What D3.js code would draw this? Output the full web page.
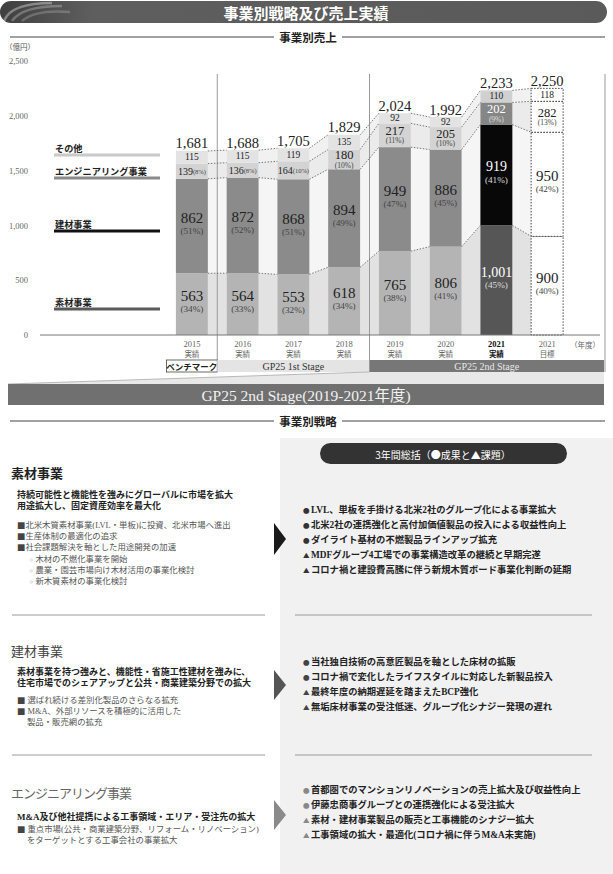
<!DOCTYPE html>
<html lang="ja">
<head>
<meta charset="UTF-8">
<title>事業別戦略及び売上実績</title>
<script src="https://d3js.org/d3.v7.min.js"></script>
<style>
  body { margin: 0; background: #fff; }
  svg { display: block; }
  .axis .domain { display: none; }
  .axis text { font-family: 'Liberation Serif', 'Noto Sans CJK JP', serif; }
</style>
</head>
<body>
<script>
// ---- data ----
var years   = ["2015", "2016", "2017", "2018", "2019", "2020", "2021", "2021"];
var kinds   = ["実績", "実績", "実績", "実績", "実績", "実績", "実績", "目標"];
var sozai   = [563, 564, 553, 618, 765, 806, 1001, 900];
var kenzai  = [862, 872, 868, 894, 949, 886, 919, 950];
var engi    = [139, 136, 164, 180, 217, 205, 202, 282];
var other   = [115, 115, 119, 135, 92, 92, 110, 118];
var totals  = [1681, 1688, 1705, 1829, 2024, 1992, 2233, 2250];
var sozaiPct  = [34, 33, 32, 34, 38, 41, 45, 40];
var kenzaiPct = [51, 52, 51, 49, 47, 45, 41, 42];
var engiPct   = [8, 8, 10, 10, 11, 10, 9, 13];
var yTicks  = [0, 500, 1000, 1500, 2000, 2500];
var seriesNames = ["素材事業", "建材事業", "エンジニアリング事業", "その他"];
var stageNames  = ["ベンチマーク", "GP25 1st Stage", "GP25 2nd Stage"];
var stageFirst  = [0, 1, 4];   // 各ステージの最初の列
var stageLast   = [0, 3, 7];

var width = 613, height = 874;
var serif = "'Liberation Serif','Noto Sans CJK JP',serif";
var jp = "'Noto Sans CJK JP',sans-serif";

var svg = d3.select("body").append("svg")
    .attr("width", width)
    .attr("height", height);

// 見出しバー
var defs = svg.append("defs");
var grad = defs.append("linearGradient").attr("id", "titleGrad");
grad.append("stop").attr("offset", "0%").attr("stop-color", "#3f3f3f");
grad.append("stop").attr("offset", "15%").attr("stop-color", "#5e5e5e");
grad.append("stop").attr("offset", "100%").attr("stop-color", "#5a5a5a");
svg.append("rect").attr("x", 0).attr("y", 1).attr("width", 607).attr("height", 22)
    .attr("rx", 11).attr("fill", "url(#titleGrad)");
[["M4,21 C8,10 22,3 52,3", 0.35], ["M12,21 C18,12 32,6 62,6", 0.25], ["M22,21 C30,14 44,10 70,12", 0.2]]
  .forEach(function(p) {
    svg.append("path").attr("d", p[0]).attr("fill", "none")
      .attr("stroke", "#fff").attr("stroke-width", 2.5).attr("opacity", p[1]);
  });
svg.append("text").attr("x", 306).attr("y", 12).attr("text-anchor", "middle")
    .attr("dominant-baseline", "central").attr("fill", "#fff")
    .attr("font-family", jp).attr("font-weight", "bold").attr("font-size", 15)
    .text("事業別戦略及び売上実績");

function sectionHeader(label, y) {
  svg.append("line").attr("x1", 10).attr("x2", 274).attr("y1", y).attr("y2", y)
    .attr("stroke", "#444").attr("stroke-width", 1.2);
  svg.append("line").attr("x1", 342).attr("x2", 605).attr("y1", y).attr("y2", y)
    .attr("stroke", "#444").attr("stroke-width", 1.2);
  svg.append("text").attr("x", 308).attr("y", y).attr("text-anchor", "middle")
    .attr("dominant-baseline", "central").attr("fill", "#222")
    .attr("font-family", jp).attr("font-weight", "bold").attr("font-size", 11.5)
    .text(label);
}
sectionHeader("事業別売上", 37);

// ---- scales ----
var keys = years.map(function(y, i) { return i; });
var xScale = d3.scaleBand().domain(keys).range([166.5, 572.5])
    .paddingInner(0.37).paddingOuter(0.185);
var bw = xScale.bandwidth();
var step = xScale.step();
var yScale = d3.scaleLinear().domain([0, 2500]).range([335, 61]);

var rows = keys.map(function(i) {
  return { i: i, sozai: sozai[i], kenzai: kenzai[i], engi: engi[i], other: other[i] };
});
var stacked = d3.stack().keys(["sozai", "kenzai", "engi", "other"])(rows);

var barFill  = { sozai: "#b4b4b4", kenzai: "#8b8b8b", engi: "#d3d3d3", other: "#e3e3e3" };
var hiFill   = { sozai: "#565656", kenzai: "#080808", engi: "#868686", other: "#d0d0d0" };
var linkFill = { sozai: "#e2e2e2", kenzai: "#f5f5f5", engi: "#ebebeb", other: "#f1f1f1" };
var legendCol = { sozai: "#5a5a5a", kenzai: "#111", engi: "#8a8a8a", other: "#c9c9c9" };
var pctOf = { sozai: sozaiPct, kenzai: kenzaiPct, engi: engiPct };

// 軸
svg.append("text").attr("x", 5).attr("y", 50).attr("font-family", jp)
    .attr("font-size", 7.5).attr("fill", "#555").text("（億円）");
var yAxis = d3.axisLeft(yScale).tickValues(yTicks).tickSize(0).tickPadding(0)
    .tickFormat(d3.format(","));
svg.append("g").attr("class", "axis").attr("transform", "translate(28,0)").call(yAxis)
  .selectAll("text").attr("font-size", 8.5).attr("fill", "#666");

// 期間区切り
function stageLeft(s) { return xScale(stageFirst[s]) - (step - bw) / 2; }
function stageRight(s) { return s === 2 ? 604 : xScale(stageLast[s]) + bw + (step - bw) / 2; }

// 接続帯
var linkG = svg.append("g");
stacked.forEach(function(layer) {
  for (var i = 0; i < layer.length - 1; i++) {
    var a = layer[i], b = layer[i + 1];
    var xa = xScale(i) + bw, xb = xScale(i + 1);
    linkG.append("path")
      .attr("d", "M" + xa + "," + yScale(a[0]) + "L" + xa + "," + yScale(a[1]) +
                 "L" + xb + "," + yScale(b[1]) + "L" + xb + "," + yScale(b[0]) + "Z")
      .attr("fill", linkFill[layer.key]);
  }
});

// 区切り線
[stageRight(0), stageRight(1), 605].forEach(function(x) {
  svg.append("line").attr("x1", x).attr("x2", x).attr("y1", 74).attr("y2", 372)
    .attr("stroke", "#999").attr("stroke-width", 1);
});

// 棒
var barG = svg.append("g");
stacked.forEach(function(layer) {
  barG.selectAll(null).data(layer).enter().append("rect")
    .attr("x", function(d, i) { return xScale(i); })
    .attr("y", function(d) { return yScale(d[1]); })
    .attr("width", bw)
    .attr("height", function(d) { return yScale(d[0]) - yScale(d[1]); })
    .attr("fill", function(d, i) { return i === 7 ? "#fff" : (i === 6 ? hiFill[layer.key] : barFill[layer.key]); })
    .attr("stroke", function(d, i) { return i === 7 ? "#444" : "none"; })
    .attr("stroke-width", 1)
    .attr("stroke-dasharray", "1.5,1.5");
});

// 点線
stacked.forEach(function(layer) {
  for (var i = 0; i < layer.length - 1; i++) {
    svg.append("line")
      .attr("x1", xScale(i) + bw).attr("y1", yScale(layer[i][1]))
      .attr("x2", xScale(i + 1)).attr("y2", yScale(layer[i + 1][1]))
      .attr("stroke", "#555").attr("stroke-width", 0.8).attr("stroke-dasharray", "1.5,1.5");
  }
});

// 基線
svg.append("line").attr("x1", 40).attr("x2", 600).attr("y1", 335).attr("y2", 335)
  .attr("stroke", "#777").attr("stroke-width", 1);

// ラベル
var labelG = svg.append("g").attr("text-anchor", "middle").attr("font-family", serif);
stacked.forEach(function(layer) {
  layer.forEach(function(d, i) {
    var cx = xScale(i) + bw / 2;
    var mid = (yScale(d[0]) + yScale(d[1])) / 2;
    var dark = (i === 6 && layer.key !== "other");
    var numCol = dark ? "#fff" : "#222";
    var pctCol = dark ? "#ddd" : "#444";
    var v = d[1] - d[0];
    if (layer.key === "sozai" || layer.key === "kenzai") {
      labelG.append("text").attr("x", cx).attr("y", mid - 8).attr("dominant-baseline", "central")
        .attr("font-size", i === 6 ? 14 : 15).attr("fill", numCol).text(d3.format(",")(v));
      labelG.append("text").attr("x", cx).attr("y", mid + 5).attr("dominant-baseline", "central")
        .attr("font-size", 9.2).attr("fill", pctCol).text("(" + pctOf[layer.key][i] + "%)");
    } else if (layer.key === "engi") {
      if (i < 3) {
        var t = labelG.append("text").attr("x", cx).attr("y", mid).attr("dominant-baseline", "central")
          .attr("fill", numCol);
        t.append("tspan").attr("font-size", 10).text(v);
        t.append("tspan").attr("font-size", 6.5).attr("fill", pctCol).text("(" + engiPct[i] + "%)");
      } else {
        labelG.append("text").attr("x", cx).attr("y", mid - 4.2).attr("dominant-baseline", "central")
          .attr("font-size", 12.5).attr("fill", numCol).text(v);
        labelG.append("text").attr("x", cx).attr("y", mid + 5.6).attr("dominant-baseline", "central")
          .attr("font-size", 7.5).attr("fill", pctCol).text("(" + engiPct[i] + "%)");
      }
    } else {
      labelG.append("text").attr("x", cx).attr("y", mid).attr("dominant-baseline", "central")
        .attr("font-size", 9.5).attr("fill", "#222").text(v);
      labelG.append("text").attr("x", cx).attr("y", yScale(d[1]) - 7.5).attr("dominant-baseline", "central")
        .attr("font-size", 14.5).attr("fill", "#222").text(d3.format(",")(totals[i]));
    }
  });
});

// 凡例
var legendRows = [
  { key: "other", name: seriesNames[3], y: 148 },
  { key: "engi", name: seriesNames[2], y: 171 },
  { key: "kenzai", name: seriesNames[1], y: 224 },
  { key: "sozai", name: seriesNames[0], y: 302 }
];
legendRows.forEach(function(r) {
  svg.append("text").attr("x", 55).attr("y", r.y).attr("dominant-baseline", "central")
    .attr("font-family", jp).attr("font-weight", "bold").attr("font-size", 9.2).attr("fill", "#222")
    .text(r.name);
  svg.append("line").attr("x1", 54).attr("x2", 160).attr("y1", r.y + 7).attr("y2", r.y + 7)
    .attr("stroke", legendCol[r.key]).attr("stroke-width", 3);
});

// x軸
var xAxis = d3.axisBottom(xScale).tickSize(0).tickPadding(0).tickFormat(function(i) { return years[i]; });
var xg = svg.append("g").attr("class", "axis").attr("transform", "translate(0,338)").call(xAxis);
xg.selectAll(".tick text").each(function(i) {
  var t = d3.select(this).text(null).attr("y", 0).attr("dy", null)
    .attr("font-size", 8.5).attr("fill", i === 6 ? "#111" : "#666")
    .attr("font-weight", i === 6 ? "bold" : "normal");
  t.append("tspan").attr("x", 0).attr("y", 6).attr("dominant-baseline", "central").text(years[i]);
  t.append("tspan").attr("x", 0).attr("y", 15).attr("dominant-baseline", "central")
    .attr("font-family", jp).attr("font-size", 7.5).text(kinds[i]);
});
svg.append("text").attr("x", 585).attr("y", 344).attr("text-anchor", "middle")
  .attr("dominant-baseline", "central").attr("font-family", jp).attr("font-size", 7.5)
  .attr("fill", "#666").text("（年度）");

// ステージ帯
var stageFill = ["#fff", "#e4e4e4", "#777"];
var stageText = ["#222", "#333", "#e8e8e8"];
stageNames.forEach(function(n, s) {
  var x0 = stageLeft(s), x1 = stageRight(s);
  svg.append("rect").attr("x", x0).attr("y", 360).attr("width", x1 - x0).attr("height", 12)
    .attr("fill", stageFill[s]).attr("stroke", s === 0 ? "#444" : "none").attr("stroke-width", 0.8);
  svg.append("text").attr("x", (x0 + x1) / 2).attr("y", 366).attr("text-anchor", "middle")
    .attr("dominant-baseline", "central").attr("font-size", s === 0 ? 8.5 : 10)
    .attr("font-family", s === 0 ? jp : serif).attr("font-weight", s === 0 ? "bold" : "normal")
    .attr("fill", stageText[s]).text(n);
});
var x2 = stageLeft(2);
svg.append("path").attr("d", "M" + x2 + ",372L604,372L604,384L8,384Z").attr("fill", "#e8e8e8");
svg.append("line").attr("x1", 8).attr("y1", 384).attr("x2", x2).attr("y2", 372)
  .attr("stroke", "#aaa").attr("stroke-width", 0.8);
svg.append("rect").attr("x", 8).attr("y", 384).attr("width", 596).attr("height", 21).attr("fill", "#707070");
svg.append("text").attr("x", 306).attr("y", 395).attr("text-anchor", "middle")
  .attr("dominant-baseline", "central").attr("font-family", serif).attr("font-size", 15.5)
  .attr("fill", "#f2f2f2").text("GP25 2nd Stage(2019-2021年度)");

// ---- 事業別戦略 ----
sectionHeader("事業別戦略", 421);
svg.append("rect").attr("x", 280).attr("y", 438).attr("width", 333).attr("height", 436).attr("fill", "#f1f1f1");
svg.append("rect").attr("x", 320).attr("y", 443).attr("width", 247).attr("height", 21).attr("rx", 10.5)
  .attr("fill", "#333");
svg.append("text").attr("x", 443).attr("y", 454).attr("text-anchor", "middle")
  .attr("dominant-baseline", "central").attr("font-family", jp).attr("font-size", 10)
  .attr("fill", "#fff").text("3年間総括（●成果と▲課題）");

var sections = [
  { title: "素材事業", titleY: 472, titleCol: "#222", titleW: "bold", titleLs: 0,
    lead: ["持続可能性と機能性を強みにグローバルに市場を拡大", "用途拡大し、固定資産効率を最大化"], leadY: 495,
    items: [["■北米木質素材事業(LVL・単板)に投資、北米市場へ進出", 0], ["■生産体制の最適化の追求", 0],
            ["■社会課題解決を軸とした用途開発の加速", 0], ["◦木材の不燃化事業を開始", 1],
            ["◦農業・園芸市場向け木材活用の事業化検討", 1], ["◦新木質素材の事業化検討", 1]], itemY: 525,
    arrow: [523, 555], arrowCol: "#1a1a1a", markCol: "#333", bulletY: 510,
    bullets: ["●LVL、単板を手掛ける北米2社のグループ化による事業拡大", "●北米2社の連携強化と高付加価値製品の投入による収益性向上",
              "●ダイライト基材の不燃製品ラインアップ拡充", "▲MDFグループ4工場での事業構造改革の継続と早期完遂",
              "▲コロナ禍と建設費高騰に伴う新規木質ボード事業化判断の延期"], sep: 615 },
  { title: "建材事業", titleY: 650, titleCol: "#444", titleW: "normal", titleLs: 0,
    lead: ["素材事業を持つ強みと、機能性・省施工性建材を強みに、", "住宅市場でのシェアアップと公共・商業建築分野での拡大"], leadY: 672,
    items: [["■ 選ばれ続ける差別化製品のさらなる拡充", 0], ["■ M&A、外部リソースを積極的に活用した", 0],
            ["製品・販売網の拡充", 1]], itemY: 700,
    arrow: [670, 700], arrowCol: "#555", markCol: "#444", bulletY: 662,
    bullets: ["●当社独自技術の高意匠製品を軸とした床材の拡販", "●コロナ禍で変化したライフスタイルに対応した新製品投入",
              "▲最終年度の納期遅延を踏まえたBCP強化", "▲無垢床材事業の受注低迷、グループ化シナジー発現の遅れ"], sep: 755 },
  { title: "エンジニアリング事業", titleY: 792, titleCol: "#666", titleW: "normal", titleLs: -1,
    lead: ["M&A及び他社提携による工事領域・エリア・受注先の拡大"], leadY: 817,
    items: [["■ 重点市場(公共・商業建築分野、リフォーム・リノベーション)", 0], ["をターゲットとする工事会社の事業拡大", 1]], itemY: 829,
    arrow: [800, 830], arrowCol: "#8a8a8a", markCol: "#888", bulletY: 790,
    bullets: ["●首都圏でのマンションリノベーションの売上拡大及び収益性向上", "●伊藤忠商事グループとの連携強化による受注拡大",
              "▲素材・建材事業製品の販売と工事機能のシナジー拡大", "▲工事領域の拡大・最適化(コロナ禍に伴うM&A未実施)"], sep: null }
];

sections.forEach(function(s) {
  svg.append("text").attr("x", 11).attr("y", s.titleY).attr("dominant-baseline", "central")
    .attr("font-family", jp).attr("font-weight", s.titleW).attr("font-size", 13)
    .attr("letter-spacing", s.titleLs).attr("fill", s.titleCol).text(s.title);
  s.lead.forEach(function(l, k) {
    svg.append("text").attr("x", 17).attr("y", s.leadY + k * 11).attr("dominant-baseline", "central")
      .attr("font-family", serif).attr("font-weight", "bold").attr("font-size", 9)
      .attr("fill", "#222").text(l);
  });
  s.items.forEach(function(it, k) {
    var t = svg.append("text").attr("x", it[1] ? 27 : 17).attr("y", s.itemY + k * 11.2)
      .attr("dominant-baseline", "central").attr("font-family", serif).attr("font-size", 8.4)
      .attr("fill", "#555");
    var m = it[0].charAt(0);
    if (m === "■" || m === "◦") {
      t.append("tspan").attr("fill", m === "■" ? "#444" : "#999").attr("font-family", jp).text(m);
      t.append("tspan").text(it[0].slice(1));
    } else {
      t.text(it[0]);
    }
  });
  svg.append("path")
    .attr("d", "M274," + s.arrow[0] + "L286," + ((s.arrow[0] + s.arrow[1]) / 2) + "L274," + s.arrow[1] + "Z")
    .attr("fill", s.arrowCol);
  s.bullets.forEach(function(b, k) {
    var t = svg.append("text").attr("x", 303).attr("y", s.bulletY + k * 15).attr("dominant-baseline", "central")
      .attr("font-family", serif).attr("font-weight", "bold").attr("font-size", 9.3).attr("fill", "#222");
    t.append("tspan").attr("font-family", jp).attr("font-size", 6.5).attr("fill", s.markCol)
      .text(b.charAt(0));
    t.append("tspan").attr("dx", 1.5).text(b.slice(1));
  });
  if (s.sep) {
    svg.append("line").attr("x1", 12).attr("x2", 265).attr("y1", s.sep).attr("y2", s.sep)
      .attr("stroke", "#9a9a9a").attr("stroke-width", 1);
    svg.append("line").attr("x1", 295).attr("x2", 592).attr("y1", s.sep).attr("y2", s.sep)
      .attr("stroke", "#9a9a9a").attr("stroke-width", 1);
  }
});
</script>
</body>
</html>
